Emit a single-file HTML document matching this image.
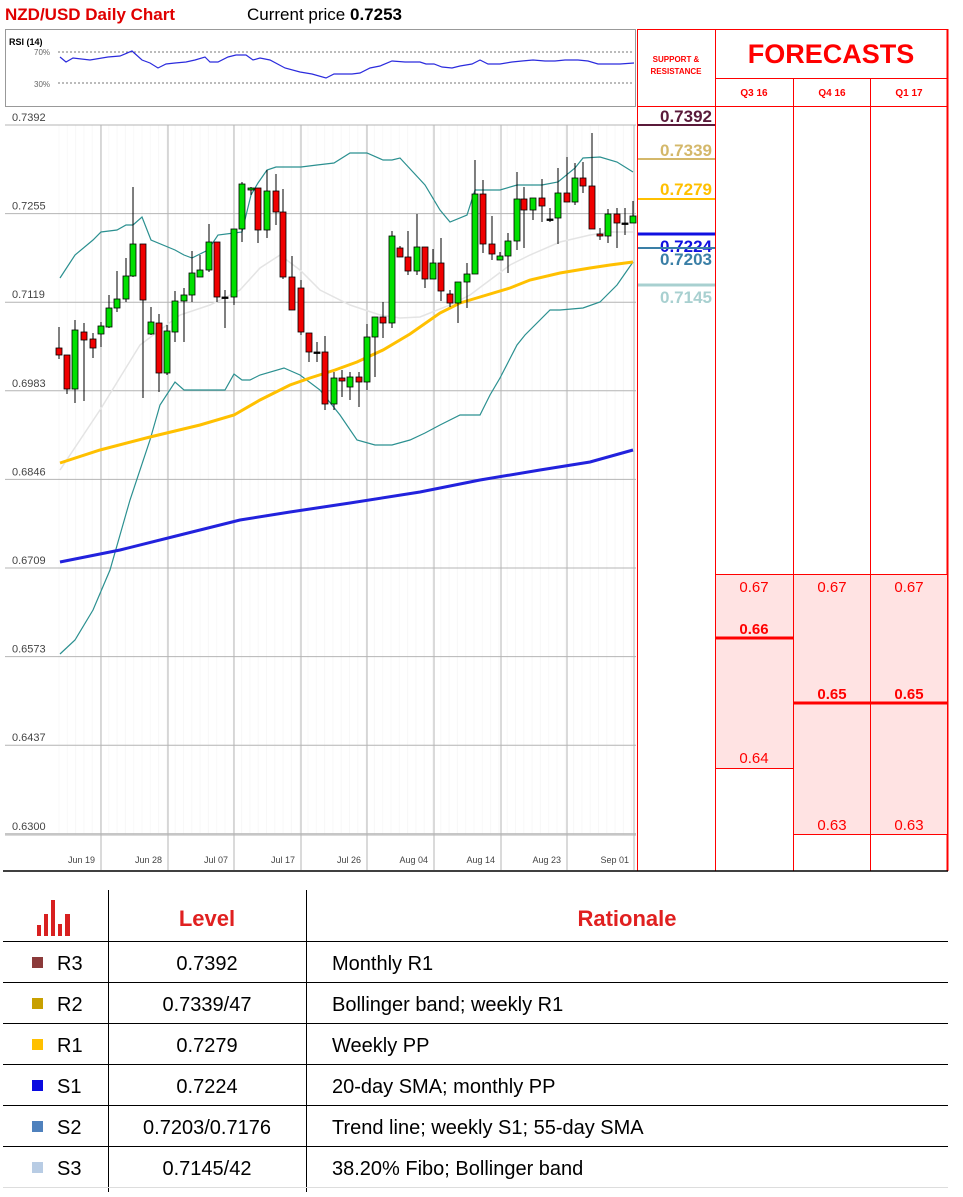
<!DOCTYPE html>
<html><head><meta charset="utf-8">
<style>
body{margin:0;background:#fff;width:963px;height:1197px;overflow:hidden;font-family:"Liberation Sans",sans-serif;}
svg{position:absolute;left:0;top:0}
</style></head><body>
<svg id="s" width="963" height="1197" xmlns="http://www.w3.org/2000/svg" font-family="Liberation Sans, sans-serif">
<text x="5" y="20" font-size="17" font-weight="bold" fill="#e00000">NZD/USD Daily Chart</text>
<text x="247" y="20" font-size="17" fill="#000">Current price <tspan font-weight="bold">0.7253</tspan></text>
<rect x="5.5" y="29.5" width="630" height="77" fill="none" stroke="#999"/>
<text x="9" y="45" font-size="9" font-weight="bold">RSI (14)</text>
<text x="34" y="55" font-size="8" fill="#666">70%</text>
<text x="34" y="87" font-size="8" fill="#666">30%</text>
<line x1="58" y1="52" x2="634" y2="52" stroke="#777" stroke-dasharray="2,2"/>
<line x1="58" y1="83" x2="634" y2="83" stroke="#777" stroke-dasharray="2,2"/>
<polyline fill="none" stroke="#2b2bdd" stroke-width="1.2" points="60,57 66,62 73,58 90,60 108,57 120,56 132,51 142,60 150,63 158,68 166,64 175,63 186,62 195,60 205,57 210,62 218,62 228,57 236,55 246,55 253,60 260,58 270,60 285,68 300,72 312,74 326,78 334,74 352,74 360,73 370,68 380,66 392,61 405,62 420,62 426,64 434,64 442,67 452,68 460,66 472,64 480,60 488,64 500,64 512,62 522,61 533,60 545,61 555,61 565,60 578,60 588,61 598,64 608,64 620,64 634,63"/>
<g id="grid" stroke="#b4b4b4" stroke-width="1"></g>
<g id="ylab" font-size="11" fill="#444"></g>
<line x1="5" y1="835" x2="636" y2="835" stroke="#b4b4b4"/>
<g font-size="9" fill="#444" text-anchor="end">
<text x="95" y="863">Jun 19</text><text x="162" y="863">Jun 28</text><text x="228" y="863">Jul 07</text><text x="295" y="863">Jul 17</text><text x="361" y="863">Jul 26</text><text x="428" y="863">Aug 04</text><text x="495" y="863">Aug 14</text><text x="561" y="863">Aug 23</text><text x="629" y="863">Sep 01</text>
</g>
<polyline fill="none" stroke="#e4e4e4" stroke-width="1.5" points="60,470 100,410 140,345 180,315 210,305 240,290 260,268 280,255 300,270 320,290 350,305 380,315 400,318 420,317 450,305 470,295 490,280 510,265 530,255 560,242 590,235 610,232 633,232"/>
<polyline fill="none" stroke="#2b9090" stroke-width="1.2" points="60,278 75,255 93,240 101,232 117,230 126,225 133,225 142,217 151,240 175,250 184,255 192,258 208,250 218,235 234,233 242,232 251,195 258,183 267,170 276,167 301,167 317,165 334,163 350,153 367,153 383,160 392,160 400,158 425,185 440,210 450,222 467,215 475,190 500,190 517,185 542,185 558,182 575,168 583,158 600,157 617,162 633,172"/>
<polyline fill="none" stroke="#2b9090" stroke-width="1.2" points="60,654 75,640 93,610 110,570 130,500 150,440 160,405 175,382 184,390 200,390 225,390 234,374 242,380 250,380 260,375 284,368 300,375 320,390 340,415 357,440 375,445 392,445 410,440 425,433 440,425 460,415 480,415 490,395 500,378 517,345 525,335 550,310 560,310 583,308 600,302 617,285 633,262"/>
<polyline fill="none" stroke="#ffc000" stroke-width="3" points="60,463 100,450 150,437 200,425 234,415 260,400 290,385 310,378 335,370 357,362 383,350 410,334 440,313 460,303 480,297 510,288 530,280 560,273 590,268 610,265 633,262"/>
<polyline fill="none" stroke="#2222dd" stroke-width="3" points="60,562 120,550 180,535 240,520 290,512 350,503 420,492 480,480 540,470 590,462 633,450"/>
<g id="candles"></g>
<g stroke="#f00" stroke-width="1" fill="none">
<line x1="637.5" y1="29" x2="637.5" y2="871"/>
<line x1="715.5" y1="29" x2="715.5" y2="871"/>
<line x1="793.5" y1="78" x2="793.5" y2="871"/>
<line x1="870.5" y1="78" x2="870.5" y2="871"/>
<line x1="947.5" y1="29" x2="947.5" y2="871" stroke-width="2"/>
<line x1="637" y1="29.5" x2="948" y2="29.5"/>
<line x1="715" y1="78.5" x2="948" y2="78.5"/>
<line x1="637" y1="106.5" x2="948" y2="106.5"/>
</g>
<rect x="716" y="575" width="77" height="193" fill="#ffe3e3"/>
<rect x="794" y="575" width="153" height="259" fill="#ffe3e3"/>
<g stroke="#f00">
<line x1="715" y1="574.5" x2="948" y2="574.5"/>
<line x1="715" y1="638" x2="793" y2="638" stroke-width="3"/>
<line x1="793" y1="703" x2="948" y2="703" stroke-width="3"/>
<line x1="715" y1="768.5" x2="793" y2="768.5"/>
<line x1="793" y1="834.5" x2="948" y2="834.5"/>
<line x1="715.5" y1="574" x2="715.5" y2="871"/><line x1="793.5" y1="574" x2="793.5" y2="871"/><line x1="870.5" y1="574" x2="870.5" y2="871"/>
</g>
<g fill="#f00" font-size="15" text-anchor="middle">
<text x="754" y="592">0.67</text><text x="832" y="592">0.67</text><text x="909" y="592">0.67</text>
<text x="754" y="634" font-weight="bold">0.66</text>
<text x="832" y="699" font-weight="bold">0.65</text><text x="909" y="699" font-weight="bold">0.65</text>
<text x="754" y="763">0.64</text>
<text x="832" y="830">0.63</text><text x="909" y="830">0.63</text>
<text x="676" y="62" font-size="8" font-weight="bold">SUPPORT &amp;</text>
<text x="676" y="74" font-size="8" font-weight="bold">RESISTANCE</text>
<text x="831" y="63" font-size="27" font-weight="bold">FORECASTS</text>
<text x="754" y="96" font-size="10" font-weight="bold">Q3 16</text>
<text x="832" y="96" font-size="10" font-weight="bold">Q4 16</text>
<text x="909" y="96" font-size="10" font-weight="bold">Q1 17</text>
</g>
<g font-size="17" font-weight="bold" text-anchor="end">
<text x="712" y="122" fill="#5a1a3a">0.7392</text>
<text x="712" y="156" fill="#d4b86a">0.7339</text>
<text x="712" y="195" fill="#ffc000">0.7279</text>
<text x="712" y="252" fill="#1010e0">0.7224</text>
<text x="712" y="265" fill="#3a7fa6">0.7203</text>
<text x="712" y="303" fill="#a8d0d0">0.7145</text>
</g>
<g stroke-width="2">
<line x1="638" y1="125" x2="715" y2="125" stroke="#5a1a3a"/>
<line x1="638" y1="159" x2="715" y2="159" stroke="#d4b86a"/>
<line x1="638" y1="199" x2="715" y2="199" stroke="#ffc000"/>
<line x1="638" y1="234" x2="715" y2="234" stroke="#1010e0" stroke-width="3"/>
<line x1="638" y1="248" x2="715" y2="248" stroke="#3a7fa6"/>
<line x1="638" y1="285" x2="715" y2="285" stroke="#a8d0d0" stroke-width="3"/>
</g>
<line x1="3" y1="871" x2="948" y2="871" stroke="#000" stroke-width="1.5"/>
<g fill="#d82020">
<rect x="37" y="925" width="4" height="11"/><rect x="44" y="914" width="4" height="22"/><rect x="51" y="900" width="4" height="36"/><rect x="58" y="924" width="4" height="12"/><rect x="65" y="914" width="5" height="22"/>
</g>
<text x="207" y="926" font-size="22" font-weight="bold" fill="#e02020" text-anchor="middle">Level</text>
<text x="627" y="926" font-size="22" font-weight="bold" fill="#e02020" text-anchor="middle">Rationale</text>
<g stroke="#000" stroke-width="1">
<line x1="108.5" y1="890" x2="108.5" y2="1192"/><line x1="306.5" y1="890" x2="306.5" y2="1192"/>
<line x1="3" y1="941.5" x2="948" y2="941.5"/><line x1="3" y1="982.5" x2="948" y2="982.5"/><line x1="3" y1="1023.5" x2="948" y2="1023.5"/><line x1="3" y1="1064.5" x2="948" y2="1064.5"/><line x1="3" y1="1105.5" x2="948" y2="1105.5"/><line x1="3" y1="1146.5" x2="948" y2="1146.5"/><line x1="3" y1="1187.5" x2="948" y2="1187.5" stroke="#ddd"/>
</g>
<g font-size="20" fill="#000">
<rect x="32" y="957" width="11" height="11" fill="#8b3a3a"/><text x="57" y="970">R3</text><text x="207" y="970" text-anchor="middle">0.7392</text><text x="332" y="970">Monthly R1</text>
<rect x="32" y="998" width="11" height="11" fill="#c8a000"/><text x="57" y="1011">R2</text><text x="207" y="1011" text-anchor="middle">0.7339/47</text><text x="332" y="1011">Bollinger band; weekly R1</text>
<rect x="32" y="1039" width="11" height="11" fill="#ffc000"/><text x="57" y="1052">R1</text><text x="207" y="1052" text-anchor="middle">0.7279</text><text x="332" y="1052">Weekly PP</text>
<rect x="32" y="1080" width="11" height="11" fill="#0a0ae0"/><text x="57" y="1093">S1</text><text x="207" y="1093" text-anchor="middle">0.7224</text><text x="332" y="1093">20-day SMA; monthly PP</text>
<rect x="32" y="1121" width="11" height="11" fill="#4f81bd"/><text x="57" y="1134">S2</text><text x="207" y="1134" text-anchor="middle">0.7203/0.7176</text><text x="332" y="1134">Trend line; weekly S1; 55-day SMA</text>
<rect x="32" y="1162" width="11" height="11" fill="#b8cce4"/><text x="57" y="1175">S3</text><text x="207" y="1175" text-anchor="middle">0.7145/42</text><text x="332" y="1175">38.20% Fibo; Bollinger band</text>
</g>
</svg>
<script>
var NS="http://www.w3.org/2000/svg";
function el(p,t,a){var e=document.createElementNS(NS,t);for(var k in a)e.setAttribute(k,a[k]);p.appendChild(e);return e;}
var g=document.getElementById('grid'),yl=document.getElementById('ylab');
var labs=["0.7392","0.7255","0.7119","0.6983","0.6846","0.6709","0.6573","0.6437","0.6300"];
for(var x=59;x<636;x+=8.3){el(g,'line',{x1:x,y1:125,x2:x,y2:835,stroke:'#f8f8f8'});}
for(var i=0;i<9;i++){var y=125+i*88.6;el(g,'line',{x1:5,y1:y,x2:636,y2:y});var t=el(yl,'text',{x:12,y:y-4});t.textContent=labs[i];}
[101,168,234,301,367,434,501,567,634].forEach(function(x){el(g,'line',{x1:x,y1:125,x2:x,y2:870});});
var C=[[59,348,355,327,359,'r'],[67,355,389,355,394,'r'],[75,389,330,320,403,'g'],[84,332,340,323,401,'r'],[93,339,348,333,358,'r'],[101,334,326,322,347,'g'],[109,327,308,295,328,'g'],[117,308,299,271,312,'g'],[126,299,276,258,302,'g'],[133,276,244,187,277,'g'],[143,244,300,244,398,'r'],[151,334,322,307,335,'g'],[159,323,373,314,392,'r'],[167,373,331,325,375,'g'],[175,332,301,291,342,'g'],[184,301,295,288,342,'g'],[192,295,273,251,302,'g'],[200,277,270,255,277,'g'],[209,270,242,224,272,'g'],[217,242,297,242,302,'r'],[225,297,298,290,328,'k'],[234,297,229,229,305,'g'],[242,229,184,182,242,'g'],[251,190,188,187,195,'g'],[258,188,230,188,243,'r'],[267,230,191,170,238,'g'],[276,191,212,174,225,'r'],[283,212,277,189,279,'r'],[292,277,310,256,310,'r'],[301,288,332,280,335,'r'],[309,333,352,333,362,'r'],[317,352,353,342,362,'k'],[325,352,404,336,410,'r'],[334,404,378,372,410,'g'],[342,378,381,370,397,'r'],[350,387,377,372,400,'g'],[359,377,382,372,407,'r'],[367,382,337,324,390,'g'],[375,337,317,317,377,'g'],[383,317,323,302,338,'r'],[392,323,236,231,328,'g'],[400,248,257,246,257,'r'],[408,257,271,231,275,'r'],[417,271,247,214,275,'g'],[425,247,279,247,288,'r'],[433,279,263,249,279,'g'],[441,263,291,238,301,'r'],[450,294,303,290,307,'r'],[458,303,282,282,323,'g'],[467,282,274,263,308,'g'],[475,274,194,160,274,'g'],[483,194,244,180,253,'r'],[492,244,254,216,260,'r'],[500,260,256,252,260,'g'],[508,256,241,233,273,'g'],[517,241,199,172,250,'g'],[524,199,210,187,248,'r'],[533,210,198,198,220,'g'],[542,198,206,179,222,'r'],[550,219,220,208,222,'k'],[558,218,193,168,244,'g'],[567,193,202,157,202,'r'],[575,202,178,163,205,'g'],[583,178,186,162,193,'r'],[592,186,229,133,229,'r'],[600,234,236,228,240,'r'],[608,236,214,209,243,'g'],[617,214,223,208,248,'r'],[625,223,224,208,235,'k'],[633,223,216,201,223,'g']];
var cg=document.getElementById('candles');
C.forEach(function(c){var x=c[0],t=Math.min(c[1],c[2]),b=Math.max(c[1],c[2]);
el(cg,'line',{x1:x,y1:c[3],x2:x,y2:c[4],stroke:'#000','stroke-width':1});
var f=c[5]=='g'?'#00e000':(c[5]=='r'?'#f00000':'#000');
el(cg,'rect',{x:x-3,y:t,width:6,height:Math.max(b-t,1.5),fill:f,stroke:'#000','stroke-width':0.8});});
</script>
</body></html>
